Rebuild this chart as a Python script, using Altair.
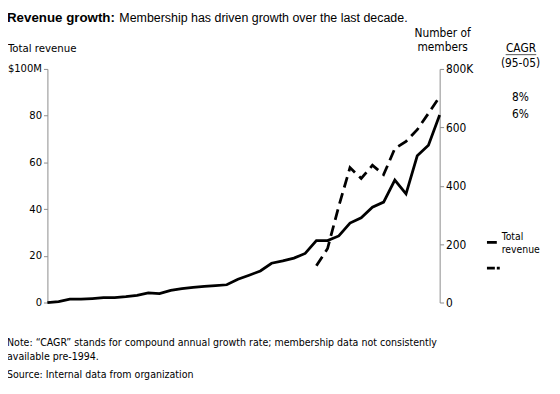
import altair as alt
import pandas as pd

years = list(range(1970, 2006))
revenue = [0, 0.4, 1.4, 1.4, 1.7, 2.1, 2.1, 2.5, 3.1, 4.1, 3.8, 5.2, 5.9, 6.5, 6.9, 7.2,
           7.6, 10.0, 11.7, 13.5, 16.8, 17.8, 19.0, 21.0, 26.5, 26.5, 28.5, 34.0, 36.3,
           40.8, 43.0, 52.4, 46.5, 62.8, 67.3, 80.3]
member_years = list(range(1994, 2006))
members = [126, 185, 330, 462, 425, 470, 438, 527, 552, 592, 648, 705]
rev_ticks = [0, 20, 40, 60, 80, 100]
mem_ticks = [0, 200, 400, 600, 800]
cagr = ["8%", "6%"]

FONT = "DejaVu Sans Condensed"
GRAY = "#8c8c8c"

df_rev = pd.DataFrame({"year": years, "revenue": revenue})
df_mem = pd.DataFrame({"year": member_years, "members": members})
one = pd.DataFrame({"a": [0]})

xscale = alt.Scale(domain=[1970, 2005], nice=False, zero=False)
xaxis = alt.Axis(values=years, format="d",
                 labelExpr="datum.value % 5 === 0 ? datum.label : ''",
                 labelOverlap=False, labelFlush=False, grid=False, title=None,
                 tickSize=5, tickColor="#222222", domainColor=GRAY,
                 labelFont=FONT, labelFontSize=12, labelColor="black",
                 labelPadding=2)

rev_line = alt.Chart(df_rev).mark_line(color="black", strokeWidth=2.8).encode(
    x=alt.X("year:Q", scale=xscale, axis=xaxis),
    y=alt.Y("revenue:Q", scale=alt.Scale(domain=[0, 100], nice=False),
            axis=alt.Axis(orient="left", values=rev_ticks, grid=False, title=None,
                          labelExpr="datum.value == 100 ? '$100M' : datum.label",
                          tickSize=4, tickColor=GRAY,
                          domainColor=GRAY, labelFont=FONT, labelFontSize=11.3,
                          labelColor="black", labelPadding=2)),
)

mem_line = alt.Chart(df_mem).mark_line(color="black", strokeWidth=2.8,
                                        strokeDash=[11, 6]).encode(
    x=alt.X("year:Q", scale=xscale, axis=None),
    y=alt.Y("members:Q", scale=alt.Scale(domain=[0, 800], nice=False),
            axis=alt.Axis(orient="right", values=mem_ticks, grid=False, title=None,
                          labelExpr="datum.value == 800 ? '800K' : datum.label",
                          tickSize=4, tickColor=GRAY, domainColor=GRAY,
                          labelFont=FONT, labelFontSize=12, labelColor="black",
                          labelPadding=2)),
)


def txt(s, x, y, size=12, font=FONT, weight="normal", align="left", **kw):
    return alt.Chart(one).mark_text(text=s, font=font, fontSize=size, fontWeight=weight,
                                    align=align, baseline="alphabetic", color="black",
                                    **kw).encode(x=alt.value(x), y=alt.value(y))


layers = [
    txt("Revenue growth:", -41, -48, size=13.5, font="Liberation Sans", weight="bold"),
    txt("Membership has driven growth over the last decade.", 73, -48, size=12.6,
        font="Liberation Sans"),
    txt("Total revenue", -40, -17, size=11.5),
    txt("Number of", 401, -32, align="center"),
    txt("members", 401, -18, align="center"),
    txt("CAGR", 480.5, -17, align="center"),
    txt("(95-05)", 480, -2, align="center"),
    txt(cagr[0], 480, 33, align="center"),
    txt(cagr[1], 480, 50, align="center"),
    alt.Chart(one).mark_rule(color="#555555", strokeWidth=1).encode(
        x=alt.value(465), x2=alt.value(496), y=alt.value(-14.5)),
    alt.Chart(one).mark_rule(color="black", strokeWidth=2.8).encode(
        x=alt.value(446), x2=alt.value(456), y=alt.value(176)),
    alt.Chart(one).mark_rule(color="black", strokeWidth=2.8, strokeDash=[8, 2]).encode(
        x=alt.value(446), x2=alt.value(459), y=alt.value(202)),
    txt("Total", 461, 174, size=10.5),
    txt("revenue", 461, 187, size=10.5),
    txt("Note: \u201cCAGR\u201d stands for compound annual growth rate; membership data not consistently",
        -41, 281, size=10.7),
    txt("available pre-1994.", -41, 295, size=10.7),
    txt("Source: Internal data from organization", -41, 314, size=10.7),
]

chart = alt.layer(rev_line, mem_line, *layers).resolve_scale(y="independent").properties(
    width=398, height=237,
    padding={"left": 40, "top": 59, "right": 114, "bottom": 90},
    autosize=alt.AutoSizeParams(type="none"),
).configure_view(stroke=None)

chart.save("out.html", embed_options={"renderer": "svg", "actions": False})
